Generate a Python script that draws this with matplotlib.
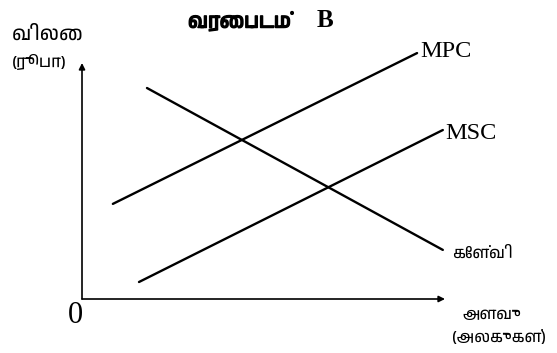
import matplotlib
matplotlib.use("Agg")
import matplotlib.pyplot as plt
import matplotlib.patheffects as pe
from matplotlib import font_manager

# ---- data (quantity, price units) ----
curve_names = ["MPC", "MSC", "கேள்வி"]
mpc_x = [0.85, 9.23]
mpc_y = [4.03, 10.42]
msc_x = [1.57, 9.94]
msc_y = [0.72, 7.16]
demand_x = [1.79, 9.94]
demand_y = [8.94, 2.08]
axis_max_x = 10.0
axis_max_y = 10.0

title_tamil = "வரைபடம்"
title_letter = "B"
y_label_1 = "விலை"
y_label_2 = "(ரூபா)"
x_label_1 = "அளவு"
x_label_2 = "(அலகுகள்)"
origin_label = "0"


def find_tamil_font():
    try:
        from fontTools.ttLib import TTFont
    except Exception:
        TTFont = None
    names = []
    for f in font_manager.fontManager.ttflist:
        if "tamil" in f.name.lower() or "tamil" in f.fname.lower():
            names.append(f.name)
    if names:
        return names[0]
    if TTFont is None:
        return None
    for f in font_manager.fontManager.ttflist:
        try:
            tt = TTFont(f.fname, fontNumber=0, lazy=True)
            cmap = tt.getBestCmap()
            if cmap and 0x0BB5 in cmap:
                return f.name
        except Exception:
            continue
    return None


tamil = find_tamil_font()
tamil_family = [tamil, "DejaVu Sans"] if tamil else ["DejaVu Sans"]

fig = plt.figure(figsize=(5.57, 3.53), dpi=100)
ax = fig.add_axes([0, 0, 1, 1])
ax.set_xlim(-2.259, 13.085)
ax.set_ylim(-2.288, 12.669)
ax.axis("off")

# axes with arrows
arrow_kw = dict(arrowstyle="-|>", mutation_scale=9, lw=1.2, color="black",
                shrinkA=0, shrinkB=0)
ax.annotate("", xy=(0, axis_max_y), xytext=(0, 0), arrowprops=arrow_kw)
ax.annotate("", xy=(axis_max_x, 0), xytext=(0, 0), arrowprops=arrow_kw)

# curves
ax.plot(mpc_x, mpc_y, color="black", lw=1.7, solid_capstyle="round")
ax.plot(msc_x, msc_y, color="black", lw=1.7, solid_capstyle="round")
ax.plot(demand_x, demand_y, color="black", lw=1.7, solid_capstyle="round")

serif = "Liberation Serif"
ax.text(mpc_x[1] + 0.08, mpc_y[1] + 0.05, curve_names[0], fontsize=17.5,
        family=serif, ha="left", va="center")
ax.text(msc_x[1] + 0.06, msc_y[1] - 0.15, curve_names[1], fontsize=17.5,
        family=serif, ha="left", va="center")
ax.text(demand_x[1] + 0.25, demand_y[1] - 0.18, curve_names[2], fontsize=11.5,
        family=tamil_family, ha="left", va="center")

ax.text(-0.19, -0.68, origin_label, fontsize=22, family=serif,
        ha="center", va="center")

bold_fx = [pe.withStroke(linewidth=1.1, foreground="black")]
ax.text(2.92, 11.77, title_tamil, fontsize=14.5, fontweight="bold",
        family=tamil_family, ha="left", va="center", path_effects=bold_fx)
ax.text(6.69, 11.8, title_letter, fontsize=18, fontweight="bold",
        family=serif, ha="center", va="center")

ax.text(-1.93, 11.2, y_label_1, fontsize=14, family=tamil_family,
        ha="left", va="center")
ax.text(-1.93, 10.04, y_label_2, fontsize=12, family=tamil_family,
        ha="left", va="center")

ax.text(10.47, -0.68, x_label_1, fontsize=11.5, family=tamil_family,
        ha="left", va="center")
ax.text(10.2, -1.65, x_label_2, fontsize=11.5, family=tamil_family,
        ha="left", va="center")

fig.savefig("out.png", dpi=100)
